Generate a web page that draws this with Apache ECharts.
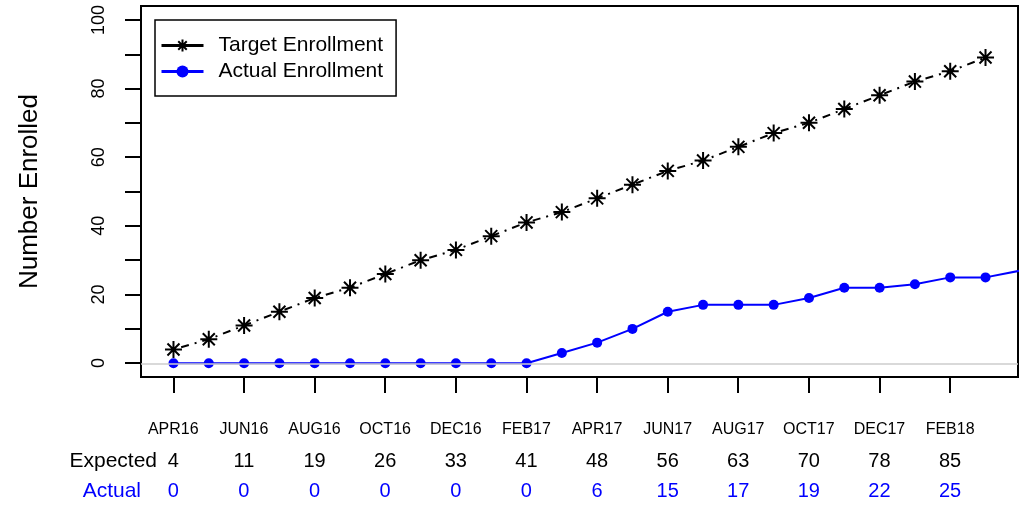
<!DOCTYPE html>
<html>
<head>
<meta charset="utf-8">
<script src="https://cdn.jsdelivr.net/npm/echarts@6/dist/echarts.min.js"></script>
<style>
html,body{margin:0;padding:0;background:#fff;}
#chart{width:1025px;height:505px;}
</style>
</head>
<body>
<div id="chart"></div>
<script>
var months = ['APR16','MAY16','JUN16','JUL16','AUG16','SEP16','OCT16','NOV16','DEC16','JAN17','FEB17','MAR17',
              'APR17','MAY17','JUN17','JUL17','AUG17','SEP17','OCT17','NOV17','DEC17','JAN18','FEB18','MAR18','APR18'];
var target = [4,7,11,15,19,22,26,30,33,37,41,44,48,52,56,59,63,67,70,74,78,82,85,89];
var actual = [0,0,0,0,0,0,0,0,0,0,0,3,6,10,15,17,17,17,19,22,22,23,25,25,27];
var yTicks = [0,20,40,60,80,100];

var FONT = 'Liberation Sans, Arial, Helvetica, sans-serif';
var starPath = 'path://M10 0L10 20M0 10L20 10M2.93 2.93L17.07 17.07M2.93 17.07L17.07 2.93';

var chart = echarts.init(document.getElementById('chart'), null, {renderer:'canvas'});

var option = {
  animation:false,
  backgroundColor:'#fff',
  textStyle:{fontFamily:FONT},
  grid:[
    {left:141, right:7, top:6, bottom:128, show:true, borderColor:'#000', borderWidth:2, backgroundColor:'transparent', containLabel:false},
    {left:141, right:7, top:20, bottom:142, show:false, containLabel:false},
    {left:173.3, right:74.9, top:6, bottom:128, show:false, containLabel:false}
  ],
  xAxis:[
    {type:'value', gridIndex:0, min:-0.92, max:23.92, show:false},
    {type:'value', gridIndex:1, min:0, max:1, show:false},
    {type:'value', gridIndex:2, min:0, max:22, interval:2, position:'bottom',
      axisLine:{show:false}, splitLine:{show:false},
      axisTick:{show:true, inside:false, length:16, lineStyle:{color:'#000', width:2}},
      axisLabel:{show:true, margin:45, fontSize:16, color:'#000', fontFamily:FONT, showMinLabel:true, showMaxLabel:true,
        formatter:function(v){return months[Math.round(v)] || '';}}},
    {type:'value', gridIndex:2, min:0, max:22, interval:2, position:'bottom',
      axisLine:{show:false}, splitLine:{show:false}, axisTick:{show:false},
      axisLabel:{show:true, margin:74, fontSize:20, color:'#000', fontFamily:FONT, showMinLabel:true, showMaxLabel:true,
        formatter:function(v){var i=Math.round(v); return target[i]!=null ? String(target[i]) : '';}}},
    {type:'value', gridIndex:2, min:0, max:22, interval:2, position:'bottom',
      axisLine:{show:false}, splitLine:{show:false}, axisTick:{show:false},
      axisLabel:{show:true, margin:104, fontSize:20, color:'#0000FF', fontFamily:FONT, showMinLabel:true, showMaxLabel:true,
        formatter:function(v){var i=Math.round(v); return actual[i]!=null ? String(actual[i]) : '';}}}
  ],
  yAxis:[
    {type:'value', gridIndex:0, min:-4, max:104, show:false},
    {type:'value', gridIndex:1, min:0, max:100, interval:10, position:'left',
      name:'Number Enrolled', nameLocation:'middle', nameRotate:90, nameGap:98,
      nameTextStyle:{fontSize:26, color:'#000', fontFamily:FONT},
      axisLine:{show:false}, splitLine:{show:false},
      axisTick:{show:true, inside:false, length:16, lineStyle:{color:'#000', width:2}},
      axisLabel:{show:true, rotate:90, margin:33, fontSize:18, color:'#000', fontFamily:FONT,
        formatter:function(v){return yTicks.indexOf(v) >= 0 ? String(v) : '';}}},
    {type:'value', gridIndex:2, min:0, max:1, show:false}
  ],
  legend:{
    orient:'vertical', left:155, top:20,
    data:['Target Enrollment','Actual Enrollment'],
    padding:[15,13,14,5], itemGap:5, itemWidth:42, itemHeight:15,
    borderColor:'#000', borderWidth:1.5, backgroundColor:'#fff',
    textStyle:{fontSize:21, color:'#000', fontFamily:FONT, padding:[0,0,0,10]},
    lineStyle:{width:3, type:'solid'}
  },
  graphic:[
    {type:'text', x:157, y:461, style:{text:'Expected', fill:'#000', font:'21px ' + FONT, textAlign:'right', textVerticalAlign:'middle'}},
    {type:'text', x:141, y:491, style:{text:'Actual', fill:'#0000FF', font:'21px ' + FONT, textAlign:'right', textVerticalAlign:'middle'}}
  ],
  series:[
    {name:'zero', type:'line', xAxisIndex:0, yAxisIndex:0, data:[], silent:true,
      markLine:{silent:true, symbol:['none','none'], label:{show:false},
        lineStyle:{color:'#CCCCCC', width:1.5, type:'solid'}, data:[{yAxis:0}]}},
    {name:'Target Enrollment', type:'line', xAxisIndex:0, yAxisIndex:0,
      data:target.map(function(v,i){return [i,v];}),
      symbol:starPath, symbolSize:17,
      itemStyle:{color:'#000', borderColor:'#000', borderWidth:2},
      lineStyle:{color:'#000', width:2, type:[2,6,8,6]}, clip:true},
    {name:'Actual Enrollment', type:'line', xAxisIndex:0, yAxisIndex:0,
      data:actual.map(function(v,i){return [i,v];}),
      symbol:'circle', symbolSize:10,
      itemStyle:{color:'#0000FF', borderWidth:0},
      lineStyle:{color:'#0000FF', width:2}, clip:true}
  ]
};
chart.setOption(option);
</script>
</body>
</html>
